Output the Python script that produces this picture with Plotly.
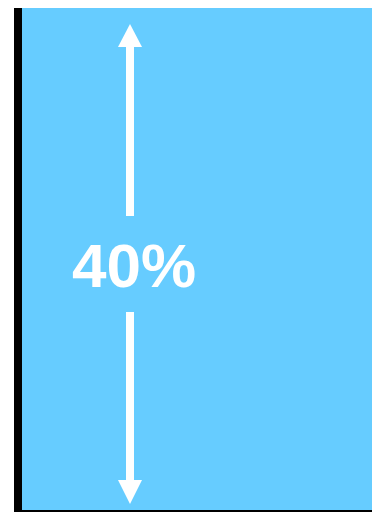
import plotly.graph_objects as go

categories = ["A"]
values = [40]
labels = ["40%"]

W, H = 372, 513
ML, MR, MT, MB = 22, 0, 8, 3
PW, PH = W - ML - MR, H - MT - MB


def px(x):
    return (x - ML) / PW


def py(y):
    return (H - MB - y) / PH


fig = go.Figure()
fig.add_trace(go.Bar(x=categories, y=values, marker=dict(color="#66CCFF", line=dict(width=0)),
                     width=1, hoverinfo="skip"))

white = "#FFFFFF"
shapes = []
# shafts
shapes.append(dict(type="rect", xref="paper", yref="paper", x0=px(126), x1=px(134), y0=py(216), y1=py(46),
                   fillcolor=white, line=dict(width=0)))
shapes.append(dict(type="rect", xref="paper", yref="paper", x0=px(126), x1=px(134), y0=py(481), y1=py(312),
                   fillcolor=white, line=dict(width=0)))
# heads
shapes.append(dict(type="path", xref="paper", yref="paper",
                   path=f"M {px(118)},{py(47)} L {px(142)},{py(47)} L {px(130)},{py(24)} Z",
                   fillcolor=white, line=dict(width=0)))
shapes.append(dict(type="path", xref="paper", yref="paper",
                   path=f"M {px(118)},{py(480)} L {px(142)},{py(480)} L {px(130)},{py(504)} Z",
                   fillcolor=white, line=dict(width=0)))

fig.update_layout(
    width=W, height=H,
    margin=dict(l=ML, r=MR, t=MT, b=MB, pad=0),
    paper_bgcolor="white", plot_bgcolor="white",
    showlegend=False,
    bargap=0,
    xaxis=dict(range=[-0.5, 0.5], showticklabels=False, ticks="", showgrid=False, zeroline=False,
               showline=True, linecolor="black", linewidth=2, fixedrange=True),
    yaxis=dict(range=[0, values[0]], showticklabels=False, ticks="", showgrid=False, zeroline=False,
               showline=True, linecolor="black", linewidth=8, fixedrange=True),
    shapes=shapes,
    annotations=[dict(text=labels[0], xref="paper", yref="paper", x=px(134), y=py(265),
                      xanchor="center", yanchor="middle", showarrow=False,
                      font=dict(family="Liberation Sans, Arial, sans-serif", size=62, color=white, weight="bold"))],
)

fig.write_html("out.html", config={"displayModeBar": False},
               default_width=f"{W}px", default_height=f"{H}px",
               post_script="document.body.style.margin='0px';document.body.style.overflow='hidden';")
